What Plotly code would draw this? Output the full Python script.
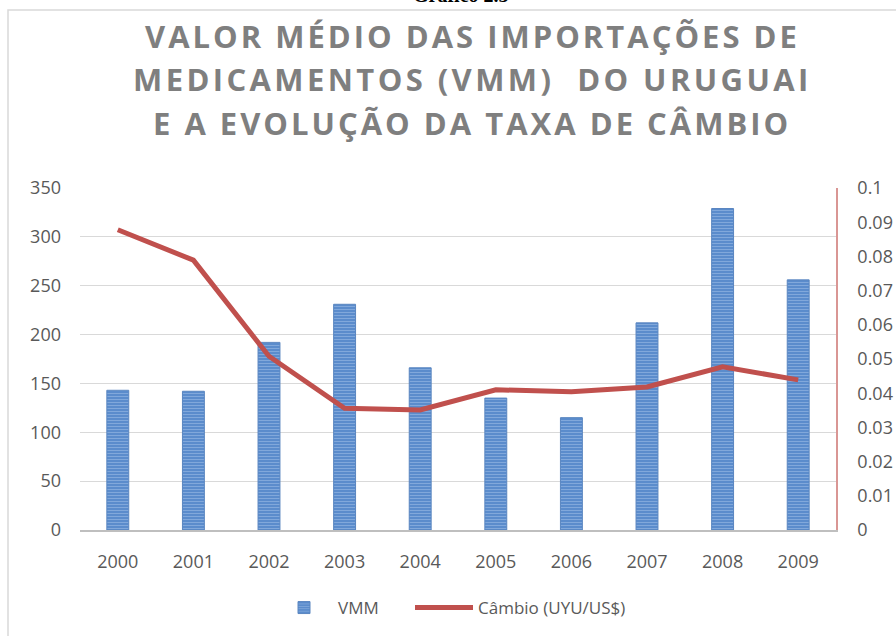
import plotly.graph_objects as go

years = ["2000", "2001", "2002", "2003", "2004", "2005", "2006", "2007", "2008", "2009"]
vmm = [143, 142, 192, 231, 166, 135, 115, 212, 329, 256]
cambio = [0.0878, 0.0789, 0.0508, 0.0356, 0.0351, 0.0410, 0.0404, 0.0418, 0.0477, 0.0439]
left_ticks = [0, 50, 100, 150, 200, 250, 300, 350]
right_ticks = [0, 0.01, 0.02, 0.03, 0.04, 0.05, 0.06, 0.07, 0.08, 0.09, 0.1]
right_labels = ["0", "0.01", "0.02", "0.03", "0.04", "0.05", "0.06", "0.07", "0.08", "0.09", "0.1"]
title_lines = ["VALOR MÉDIO DAS IMPORTAÇÕES DE",
               "MEDICAMENTOS (VMM)\u00a0 DO URUGUAI",
               "E A EVOLUÇÃO DA TAXA DE CÂMBIO"]

W, H = 896, 636
L, R, T, B = 80, 836, 188, 530

def px(x):
    return (x - L) / (R - L)

def py(y):
    return (B - y) / (B - T)

fig = go.Figure()
fig.add_trace(go.Bar(
    x=years, y=vmm, name="VMM", legend="legend",
    marker=dict(color="#5b8ccc", line=dict(color="#5a86c0", width=1),
                pattern=dict(shape="-", fgcolor="#a7c4ea", size=3, solidity=0.35, fillmode="overlay")),
))
fig.add_trace(go.Scatter(
    x=years, y=cambio, name="Câmbio (UYU/US$)", yaxis="y2", mode="lines", legend="legend2",
    line=dict(color="#c0504d", width=5),
))

font = "Open Sans"
leg_font = dict(family=font, size=17, color="#595959")
fig.update_layout(
    width=W, height=H,
    margin=dict(l=L, r=W - R, t=T, b=H - B, autoexpand=False),
    paper_bgcolor="white", plot_bgcolor="white",
    bargap=0.71,
    showlegend=True,
    legend=dict(orientation="h", x=px(270), xanchor="left", y=py(608), yanchor="middle",
                font=leg_font, itemwidth=58, bgcolor="rgba(0,0,0,0)"),
    legend2=dict(orientation="h", x=px(410), xanchor="left", y=py(608), yanchor="middle",
                 font=leg_font, itemwidth=58, bgcolor="rgba(0,0,0,0)"),
    xaxis=dict(type="category", showgrid=False, showline=True, linecolor="#bfbfbf", linewidth=2,
               ticks="", tickfont=dict(family=font, size=18, color="#595959"), ticklabelstandoff=14,
               automargin=False),
    yaxis=dict(range=[0, 350], tickvals=left_ticks, showgrid=True, gridcolor="#d9d9d9", gridwidth=1,
               zeroline=False, showline=False, ticks="", automargin=False,
               tickfont=dict(family=font, size=18, color="#595959"), ticklabelstandoff=18),
    yaxis2=dict(range=[0, 0.1], tickvals=right_ticks, ticktext=right_labels, overlaying="y", side="right",
                showgrid=False, zeroline=False, showline=True, linecolor="#d99694", linewidth=1.5,
                ticks="", automargin=False,
                tickfont=dict(family=font, size=18, color="#595959"), ticklabelstandoff=16),
)

# outer frame
fig.add_shape(type="rect", xref="paper", yref="paper",
              x0=px(8), x1=px(905), y0=py(645), y1=py(10),
              line=dict(color="#d9d9d9", width=1.5), fillcolor="rgba(0,0,0,0)", layer="below")

# caption cut off at the top
fig.add_annotation(text="<b>Gráfico 2.5</b>", xref="paper", yref="paper", x=px(461), y=py(8.5),
                   xanchor="center", yanchor="bottom", showarrow=False,
                   font=dict(family="Liberation Serif", size=20, color="black"))

centers = [36, 79, 123]
for line, cy in zip(title_lines, centers):
    fig.add_annotation(text="<b>" + line + "</b>", xref="paper", yref="paper", x=px(472), y=py(cy),
                       xanchor="center", yanchor="middle", showarrow=False,
                       font=dict(family=font, size=31, color="#7f7f7f"))

post = """
document.body.style.margin = '0';
document.body.style.padding = '0';
var gd = document.getElementsByClassName('plotly-graph-div')[0];
gd.querySelectorAll('.annotation-text').forEach(function(t){
  var s = t.textContent;
  if (s.indexOf('VALOR')>=0 || s.indexOf('EVOLU')>=0){
    t.style.letterSpacing = '3px';
  } else if (s.indexOf('MEDICAMENTOS')>=0){
    t.style.letterSpacing = '3.4px';
  }
});
"""

fig.write_html("out.html", post_script=post, config={"displayModeBar": False})
